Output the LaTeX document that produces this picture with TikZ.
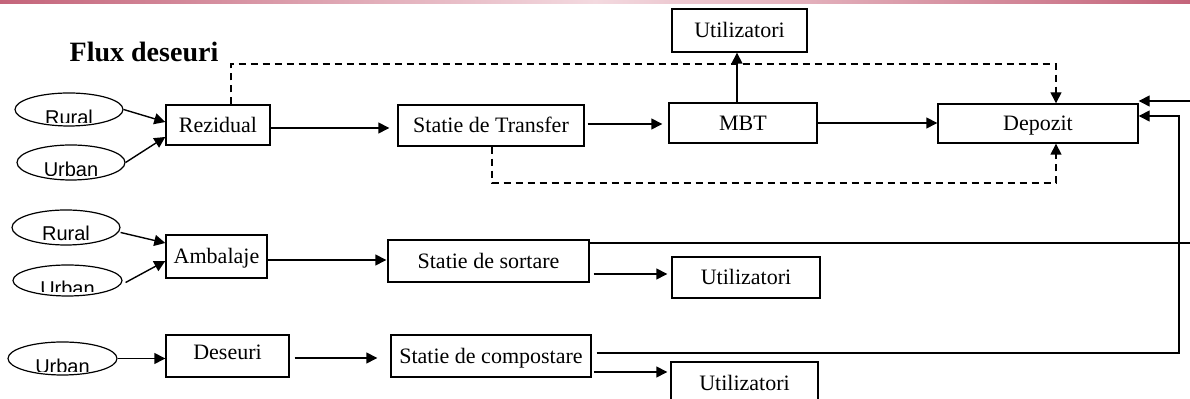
\documentclass[tikz,border=0pt]{standalone}
\usepackage{fontspec}
\setmainfont{Liberation Serif}
\newfontfamily\arialf{Liberation Sans}
\usetikzlibrary{arrows.meta,shapes.geometric}
\definecolor{barA}{HTML}{C4647A}
\definecolor{barB}{HTML}{F3D9DF}
\tikzset{
  box/.style={draw, line width=0.7pt, inner sep=0pt, text height=7.3pt, text depth=0pt, font=\fontsize{11}{13}\selectfont},
  ell/.style n args={4}{draw, ellipse, line width=0.6pt, inner sep=0pt,
    minimum width=54pt,
    path picture={\clip ([yshift=#2]path picture bounding box.south west) rectangle (path picture bounding box.north east);
      \node[font=\arialf\fontsize{10}{12}\selectfont, inner sep=0pt] (#4) at ([yshift=#1]path picture bounding box.center) {#3};}},
  arr/.style={line width=0.7pt, -{Triangle[length=5.5pt, width=5.5pt]}},
  ln/.style={line width=0.7pt},
  dsh/.style={dash pattern=on 3.5pt off 2.5pt}
}
\begin{document}
\begin{tikzpicture}[x=0.5pt,y=-0.5pt]
\useasboundingbox (0,0) rectangle (1190,399);
\shade[left color=barA, right color=barA, middle color=barB] (0,0) rectangle (1190,3.5);

\node[font=\bfseries\fontsize{14}{16}\selectfont, inner sep=0pt] (title) at (144,52) {Flux deseuri};

% ellipses
\node[ell={-4pt}{1.5pt}{Rural}{r1t}, minimum height=16.5pt] (r1) at (69,109.5) {};
\node[ell={-3.25pt}{2pt}{Urban}{u1t}, minimum height=17.5pt] (u1) at (71,162.5) {};
\node[ell={-3pt}{0pt}{Rural}{r2t}, minimum height=17.5pt] (r2) at (66,227.5) {};
\node[ell={-3.75pt}{2pt}{Urban}{u2t}, minimum height=15.5pt, minimum width=54.5pt] (u2) at (67.5,280.5) {};
\node[ell={-3.75pt}{1.5pt}{Urban}{u3t}, minimum height=16.5pt, minimum width=54.5pt] (u3) at (62.5,358.5) {};

% boxes
\node[box, minimum width=52pt, minimum height=20pt] (rez) at (218,125) {Rezidual};
\node[box, minimum width=93pt, minimum height=20.5pt] (trans) at (491,125.5) {Statie de Transfer};
\node[box, minimum width=74pt, minimum height=20pt] (mbt) at (743,123) {MBT};
\node[box, minimum width=67.5pt, minimum height=21.5pt] (util1) at (739.5,30.5) {Utilizatori};
\node[box, minimum width=100pt, minimum height=19.5pt] (dep) at (1038,123.5) {Depozit};
\node[box, minimum width=50.5pt, minimum height=21.5pt] (amb) at (216.5,256.5) {Ambalaje};
\node[box, minimum width=100.5pt, minimum height=21pt] (sort) at (488.5,261) {Statie de sortare};
\node[box, minimum width=74pt, minimum height=20.5pt] (util2) at (746,277.5) {Utilizatori};
\node[box, minimum width=61.5pt, minimum height=21pt] (des) at (227.5,356) {\raisebox{1.75pt}{Deseuri}};
\node[box, minimum width=100pt, minimum height=21pt] (comp) at (491,356) {Statie de compostare};
\node[box, minimum width=73.5pt, minimum height=21pt] (util3) at (744.5,383) {Utilizatori};

% helper coordinates
\coordinate (redge) at (1190,0);
\coordinate (vx) at (1179,0);
\coordinate (dtop) at (0,64);
\coordinate (dbot) at (0,183);

% row 1
\draw[arr] (r1.east) -- ([yshift=1.5pt]rez.west);
\draw[arr] (u1.east) -- ([yshift=-6pt]rez.west);
\draw[arr, shorten >=4pt] ([yshift=-1.5pt]rez.east) coordinate (a1) -- (a1 -| trans.west);
\draw[arr, shorten >=3pt] ([shift={(1.5pt,0.75pt)}]trans.east) coordinate (a2) -- (a2 -| mbt.west);
\draw[arr] (mbt.east) -- (mbt.east -| dep.west);
\draw[arr] ([xshift=-3pt]mbt.north) coordinate (a3) -- (a3 |- util1.south);
\coordinate (d1) at ([xshift=6.5pt]rez.north);
\coordinate (d2) at ([xshift=9pt]dep.north);
\draw[arr, dsh] (d1) -- (d1 |- dtop) -- (d2 |- dtop) -- (d2);
\coordinate (d3) at ([xshift=0.5pt]trans.south);
\coordinate (d4) at ([xshift=9pt]dep.south);
\draw[arr, dsh] (d3) -- (d3 |- dbot) -- (d4 |- dbot) -- (d4);

% row 2
\draw[arr] ([yshift=-2.5pt]r2.east) -- ([yshift=6.75pt]amb.west);
\draw[arr] ([xshift=1.5pt,yshift=-1pt]u2.east) -- ([yshift=-2.25pt]amb.west);
\draw[arr, shorten >=0.5pt] ([yshift=-1.75pt]amb.east) coordinate (a4) -- (a4 -| sort.west);
\draw[arr, shorten >=2pt] ([shift={(2pt,-6.5pt)}]sort.east) coordinate (a5) -- (a5 -| util2.west);
\draw[ln] ([yshift=9pt]sort.east) coordinate (a6) -- (a6 -| redge);
\coordinate (a7) at ([yshift=11.25pt]dep.east);
\draw[arr] (a7 -| redge) -- (a7);

% row 3
\draw[arr] (u3.east) -- (u3.east -| des.west);
\draw[arr, shorten >=6.5pt] ([shift={(2.5pt,-1pt)}]des.east) coordinate (a8) -- (a8 -| comp.west);
\draw[arr, shorten >=1.5pt] ([shift={(1pt,-8pt)}]comp.east) coordinate (a9) -- (a9 -| util3.west);
\coordinate (a10) at ([yshift=3.75pt]dep.east);
\draw[arr] ([shift={(2.5pt,1.5pt)}]comp.east) coordinate (a11) -- (a11 -| vx) -- (vx |- a10) -- (a10);
\end{tikzpicture}
\end{document}
